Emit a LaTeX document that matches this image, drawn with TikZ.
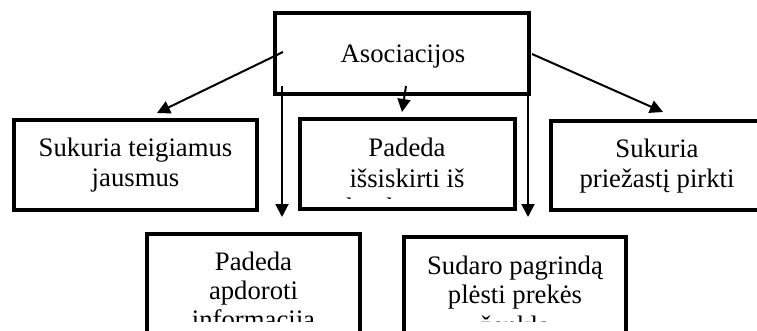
\documentclass[tikz,border=0pt]{standalone}
\usepackage{fontspec}
\setmainfont{Liberation Serif}
\usetikzlibrary{arrows.meta}
\begin{document}
\begin{tikzpicture}[x=1pt,y=-1pt,
  box/.style={draw, line width=4.5pt, inner sep=0pt, outer sep=0pt},
  txt/.style={anchor=base, inner sep=0pt, font=\fontsize{26.7}{29}\selectfont},
  arr/.style={line width=2pt, -{Triangle[width=13pt,length=13pt]}}]
\useasboundingbox (0,0) rectangle (757,331);
\clip (0,0) rectangle (757,331);

% frames
\node[box, minimum width=254pt, minimum height=81pt] (top) at (402,53.5) {};
\node[box, minimum width=243pt, minimum height=90pt] (b1) at (135.5,165) {};
\node[box, minimum width=215pt, minimum height=90pt] (b2) at (407.5,164) {};
\node[box, minimum width=212pt, minimum height=89pt] (b3) at (657,165.5) {};
\node[box, minimum width=213pt, minimum height=120pt] (b4) at (253.5,294) {};
\node[box, minimum width=222pt, minimum height=120pt] (b5) at (515,297) {};

% labels (the lowest lines are cut by their text areas)
\node[txt] (asoc) at (403,63) {Asociacijos};
\node[txt] (b1a) at (135.5,157) {Sukuria teigiamus};
\node[txt] (b1b) at (135.5,186) {jausmus};
\begin{scope}
  \clip (300,119) rectangle (515,198);
  \node[txt] (b2a) at (407,157) {Padeda};
  \node[txt] (b2b) at (407,187) {išsiskirti iš};
  \node[txt] (b2c) at (407,216) {konkurentų};
\end{scope}
\node[txt] (b3a) at (657,158) {Sukuria};
\node[txt] (b3b) at (657,188) {priežastį pirkti};
\begin{scope}
  \clip (147,234) rectangle (360,321);
  \node[txt] (b4a) at (253.5,270) {Padeda};
  \node[txt] (b4b) at (253.5,299) {apdoroti};
  \node[txt] (b4c) at (253.5,328) {informaciją};
\end{scope}
\begin{scope}
  \clip (404,237) rectangle (626,321);
  \node[txt] (b5a) at (515,274) {Sudaro pagrindą};
  \node[txt] (b5b) at (515,303) {plėsti prekės};
  \node[txt] (b5c) at (515,334) {ženklą};
\end{scope}

% connectors
\draw[arr] ([xshift=8pt,yshift=1.5pt]top.west) -- ([xshift=21.5pt,yshift=7pt]b1.north);
\draw[arr] ([xshift=4pt,yshift=8pt]top.south) -- ([xshift=-5.5pt,yshift=7pt]b2.north);
\draw[arr] ([xshift=3pt,yshift=-0.5pt]top.east) -- ([xshift=6pt,yshift=9pt]b3.north);
\draw[arr] ([xshift=7pt,yshift=8pt]top.south west) -- ([xshift=28.5pt,yshift=17pt]b4.north);
\draw[arr] ([xshift=-1pt,yshift=8pt]top.south east) -- ([xshift=13pt,yshift=20pt]b5.north);
\end{tikzpicture}
\end{document}
